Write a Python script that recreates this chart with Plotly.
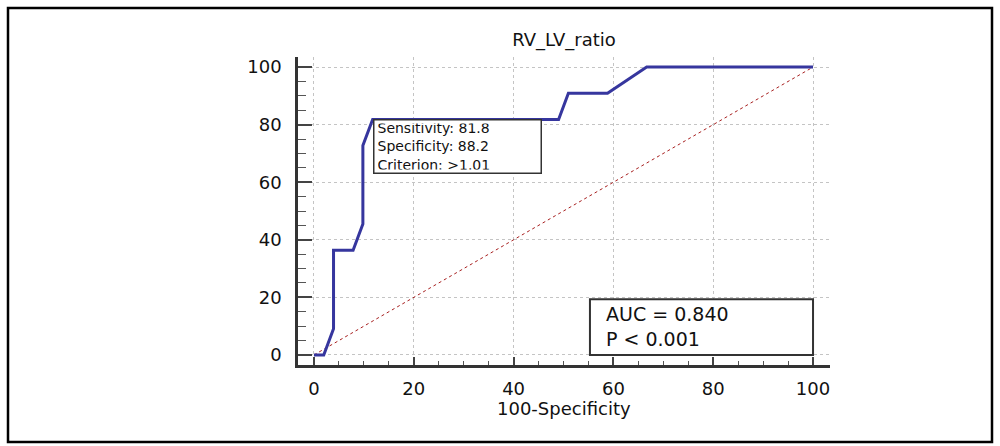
import plotly.graph_objects as go

# ROC curve points (100-Specificity, Sensitivity)
fpr = [0, 1.96, 3.92, 3.92, 7.84, 9.80, 9.80, 11.76, 49.02, 50.98, 58.82, 66.67, 100]
sens = [0, 0, 9.09, 36.36, 36.36, 45.45, 72.73, 81.82, 81.82, 90.91, 90.91, 100, 100]
diag_x = [0, 100]
diag_y = [0, 100]
tick_vals = [0, 20, 40, 60, 80, 100]
title_text = "RV_LV_ratio"
xaxis_title = "100-Specificity"
cut_x, cut_y = 11.76, 81.82
cut_text = "Sensitivity: 81.8<br>Specificity: 88.2<br>Criterion: &gt;1.01"
auc_text = "AUC = 0.840<br>P &lt; 0.001"

FONT = "DejaVu Sans"
L, R, T, B = 298, 830, 57, 365
W, H = 1000, 446

fig = go.Figure()
fig.add_trace(go.Scatter(x=diag_x, y=diag_y, mode="lines",
                         line=dict(color="#a82020", width=1, dash="dot"),
                         hoverinfo="skip", showlegend=False))
fig.add_trace(go.Scatter(x=fpr, y=sens, mode="lines",
                         line=dict(color="#36369e", width=3),
                         showlegend=False))

axis_common = dict(
    showline=True, linecolor="#333333", linewidth=2.5, mirror=False,
    ticks="inside", tickcolor="#444444", tickwidth=2,
    tickmode="array", tickvals=tick_vals,
    showgrid=True, gridcolor="#c4c4c4", gridwidth=1, griddash="dot",
    zeroline=False,
    tickfont=dict(family=FONT, size=18, color="#111111"),
)

fig.update_xaxes(range=[-3.2, 103.4], ticklen=8, ticklabelstandoff=6,
                 minor=dict(ticks="inside", ticklen=4, tickcolor="#555555",
                            tickwidth=1, dtick=5, tick0=0, showgrid=False),
                 **axis_common)
fig.update_yaxes(range=[-3.5, 103.5], ticklen=14, ticklabelstandoff=10,
                 minor=dict(ticks="inside", ticklen=8, tickcolor="#555555",
                            tickwidth=1, dtick=5, tick0=0, showgrid=False),
                 **axis_common)

def px(xp):
    return (xp - L) / (R - L)

def py(yp):
    return (B - yp) / (B - T)

# outer border
fig.add_shape(type="rect", xref="paper", yref="paper",
              x0=px(8), x1=px(992), y0=py(442), y1=py(8),
              line=dict(color="#000000", width=2.5), layer="above")

# AUC box
fig.add_shape(type="rect", xref="x", yref="y", x0=55.3, x1=100, y0=0, y1=19.3,
              line=dict(color="#333333", width=2), fillcolor="white", layer="above")
fig.add_annotation(x=58.2, y=9.8, xref="x", yref="y", text=auc_text,
                   showarrow=False, xanchor="left", yanchor="middle", align="left",
                   font=dict(family=FONT, size=19, color="#111111"))

# criterion box
fig.add_annotation(x=cut_x, y=cut_y, xref="x", yref="y", text=cut_text,
                   showarrow=False, xanchor="left", yanchor="top", align="left",
                   width=160, height=46,
                   bordercolor="#333333", borderwidth=1.5, borderpad=3,
                   bgcolor="white",
                   font=dict(family=FONT, size=14, color="#111111"))

# x axis title
fig.add_annotation(x=0.5, y=0, xref="paper", yref="paper", yshift=-(408 - B),
                   text=xaxis_title, showarrow=False, yanchor="middle",
                   font=dict(family=FONT, size=18, color="#111111"))

fig.update_layout(
    width=W, height=H,
    margin=dict(l=L, r=W - R, t=T, b=H - B),
    paper_bgcolor="white", plot_bgcolor="white",
    title=dict(text=title_text, x=0.5, xref="paper", y=1 - 40 / H, yref="container",
               yanchor="middle", xanchor="center",
               font=dict(family=FONT, size=18, color="#111111")),
)

fig.write_html("out.html", config={"displayModeBar": False},
               post_script="document.body.style.margin='0';document.body.style.overflow='hidden';")
